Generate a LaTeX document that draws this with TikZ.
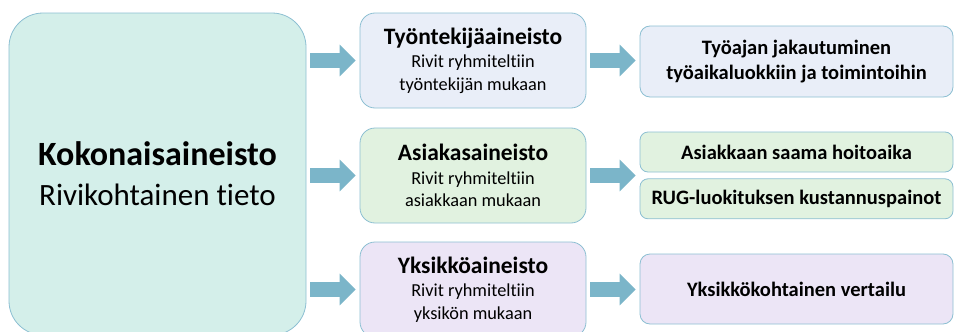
\documentclass[tikz,border=0pt]{standalone}
\usepackage{fontspec}
\setmainfont{Carlito}[Ligatures=NoCommon]
\usetikzlibrary{arrows.meta, positioning, calc}
\definecolor{kokofill}{HTML}{D4EFEA}
\definecolor{edgeblue}{HTML}{8CBFD2}
\definecolor{arrowblue}{HTML}{7BB5C9}
\definecolor{tyofill}{HTML}{E9EEF8}
\definecolor{asiafill}{HTML}{E1F2E0}
\definecolor{yksfill}{HTML}{ECE5F6}
\tikzstyle{kokobox} = [rectangle, rounded corners=34pt, minimum width=297pt, minimum height=322pt, align=center, draw=edgeblue, fill=kokofill, line width=0.8pt, font=\fontsize{31}{40}\selectfont]
\tikzstyle{databox} = [rectangle, rounded corners=15pt, minimum width=226pt, minimum height=95pt, align=center, draw=edgeblue, line width=0.8pt, font=\fontsize{18.3}{22.5}\selectfont]
\tikzstyle{resultbox} = [rectangle, rounded corners=10pt, minimum width=313pt, align=center, draw=edgeblue, line width=0.8pt, font=\fontsize{20.5}{25}\selectfont\bfseries]
\tikzstyle{arrow} = [line width=15pt, draw=arrowblue, -{Triangle[length=16pt, width=31pt]}, shorten <=4pt, shorten >=4pt]

\begin{document}
\begin{tikzpicture}[x=1pt, y=-1pt]
\useasboundingbox (0,0) rectangle (954,332);
\clip (0,0) rectangle (954,332);

% Nodes
\node (koko) [kokobox] at (157.5,174) {{\fontsize{34}{40}\selectfont\bfseries Kokonaisaineisto}\\Rivikohtainen tieto};
\node (tyo) [databox, fill=tyofill] at (473,60.5) {{\fontsize{23.5}{22}\selectfont\bfseries Työntekijäaineisto}\\[1pt]Rivit ryhmiteltiin\\työntekijän mukaan};
\node (asia) [databox, fill=asiafill] at (473,175.5) {{\fontsize{23.5}{22}\selectfont\bfseries Asiakasaineisto}\\[1pt]Rivit ryhmiteltiin\\asiakkaan mukaan};
\node (yks) [databox, fill=yksfill] at (473,289.5) {{\fontsize{23.5}{22}\selectfont\bfseries Yksikköaineisto}\\[1pt]Rivit ryhmiteltiin\\yksikön mukaan};
\node (tyojako) [resultbox, fill=tyofill, minimum height=71pt] at (796.5,61.5) {Työajan jakautuminen\\työaikaluokkiin ja toimintoihin};
\node (hoito) [resultbox, fill=asiafill, minimum height=40pt, rounded corners=8pt] at (796.5,152) {Asiakkaan saama hoitoaika};
\node (rug) [resultbox, fill=asiafill, minimum height=40pt, rounded corners=8pt, below=6pt of hoito] {RUG-luokituksen kustannuspainot};
\node (vertailu) [resultbox, fill=yksfill, minimum height=70pt] at (796.5,289) {Yksikkökohtainen vertailu};

% Arrows
\draw [arrow] (koko.east |- tyo) -- (tyo.west);
\draw [arrow] (koko.east |- asia) -- (asia.west);
\draw [arrow] (koko.east |- yks) -- (yks.west);
\draw [arrow] (tyo.east) -- (tyo.east -| tyojako.west);
\draw [arrow] (asia.east) -- (asia.east -| hoito.west);
\draw [arrow] (yks.east) -- (yks.east -| vertailu.west);

\end{tikzpicture}
\end{document}
